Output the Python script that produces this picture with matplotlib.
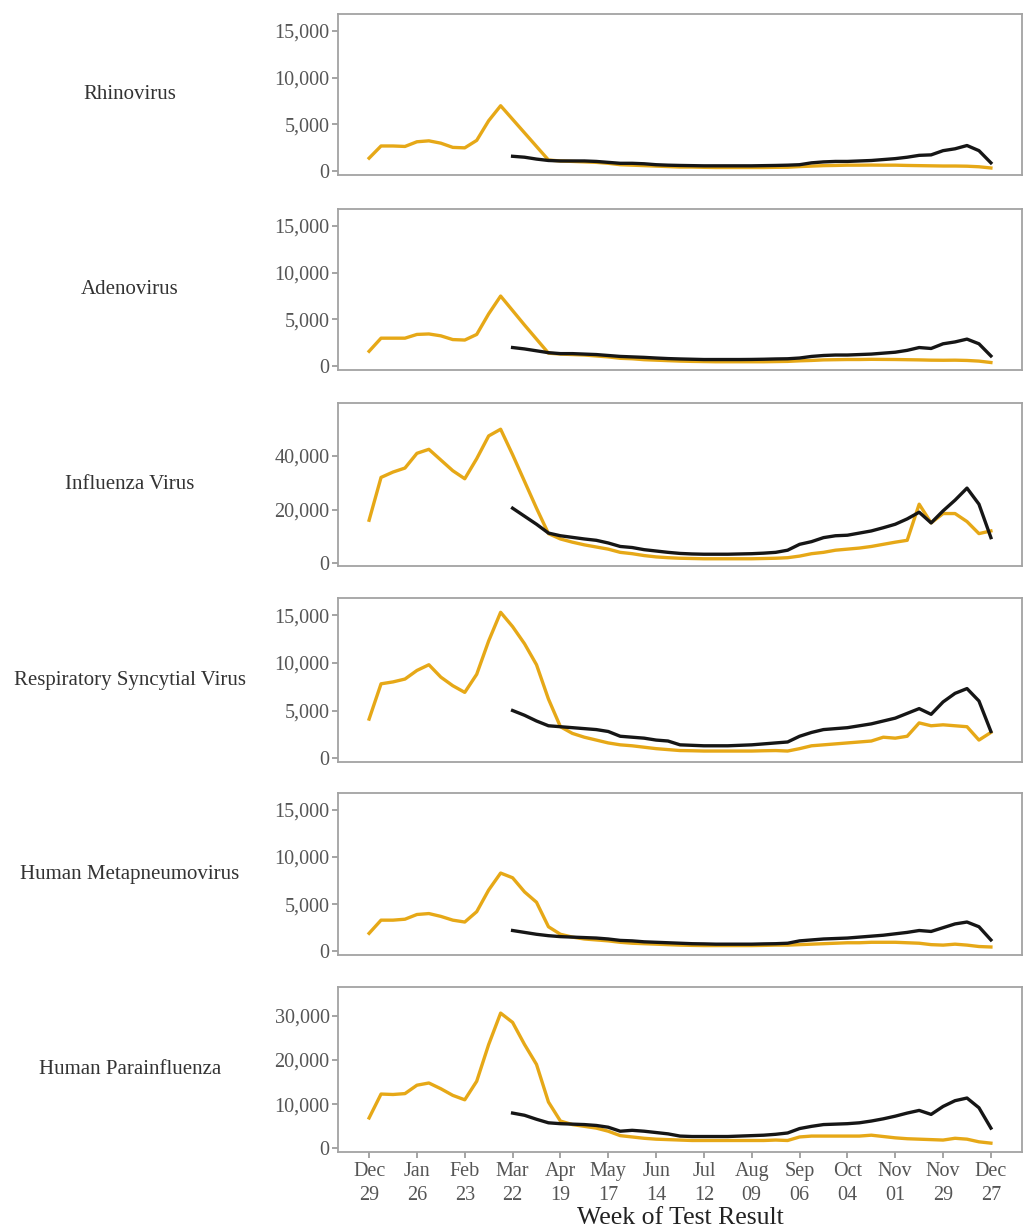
import numpy as np
import pandas as pd
import matplotlib
matplotlib.use("Agg")
import matplotlib.pyplot as plt
import matplotlib.dates as mdates
from matplotlib.ticker import FuncFormatter

# weekly test result dates, Dec 29 2019 .. Dec 27 2020
weeks = pd.date_range("2019-12-29", "2020-12-27", freq="7D")
pred_start = 12  # black series starts Mar 22

viruses = ["Rhinovirus", "Adenovirus", "Influenza Virus",
           "Respiratory Syncytial Virus", "Human Metapneumovirus",
           "Human Parainfluenza"]

rhino_obs = [1400, 2700, 2700, 2650, 3150, 3250, 3000, 2550, 2500, 3300, 5400, 7000, 5550,
             4100, 2650, 1200, 1100, 1050, 1000, 950, 850, 700, 650, 600, 550, 500, 450,
             450, 420, 400, 400, 400, 400, 400, 420, 430, 500, 550, 600, 620, 650, 650,
             660, 650, 650, 620, 600, 580, 560, 560, 540, 480, 350]
rhino_pred = [1600, 1500, 1300, 1150, 1100, 1100, 1100, 1050, 950, 850, 850, 800, 700, 650,
              620, 600, 580, 580, 580, 580, 580, 600, 620, 650, 700, 900, 1000, 1050, 1050,
              1100, 1150, 1250, 1350, 1500, 1700, 1750, 2200, 2400, 2750, 2200, 900]

adeno_obs = [1600, 3000, 3000, 3000, 3400, 3450, 3250, 2850, 2800, 3400, 5600, 7500, 5950,
             4400, 2900, 1400, 1300, 1250, 1200, 1100, 1000, 850, 800, 700, 650, 600, 550,
             520, 500, 480, 480, 480, 480, 480, 500, 520, 580, 620, 680, 700, 720, 720, 740,
             730, 720, 700, 680, 650, 640, 650, 620, 550, 400]
adeno_pred = [2000, 1850, 1650, 1450, 1350, 1350, 1300, 1250, 1150, 1050, 1000, 950, 880,
              820, 780, 750, 720, 720, 720, 720, 730, 750, 780, 800, 880, 1050, 1150, 1200,
              1200, 1250, 1300, 1400, 1500, 1700, 2000, 1900, 2400, 2600, 2900, 2400, 1100]

flu_obs = [16000, 32000, 34000, 35500, 41000, 42500, 38500, 34500, 31500, 39000, 47500, 50000,
           40500, 30500, 20500, 11000, 9000, 7800, 6800, 6000, 5200, 4000, 3500, 2800, 2300,
           2000, 1800, 1700, 1600, 1600, 1600, 1600, 1600, 1700, 1800, 2000, 2600, 3500, 4000,
           4800, 5200, 5600, 6200, 7000, 7800, 8500, 22000, 15000, 18500, 18500, 15500, 11000,
           12000]
flu_pred = [20500, 17500, 14500, 11200, 10200, 9600, 9000, 8500, 7500, 6200, 5800, 5000, 4500,
            4000, 3600, 3400, 3300, 3300, 3300, 3400, 3500, 3700, 4000, 4800, 7000, 8000, 9500,
            10200, 10400, 11200, 12000, 13200, 14500, 16500, 19000, 15000, 19500, 23500, 28000,
            22000, 9500]

rsv_obs = [4100, 7800, 8000, 8300, 9200, 9800, 8500, 7600, 6900, 8800, 12300, 15300, 13800,
           12000, 9800, 6200, 3300, 2600, 2200, 1900, 1600, 1400, 1300, 1150, 1000, 900, 800,
           780, 750, 750, 750, 750, 750, 780, 800, 750, 1000, 1300, 1400, 1500, 1600, 1700,
           1800, 2200, 2100, 2300, 3700, 3400, 3500, 3400, 3300, 1900, 2700]
rsv_pred = [5000, 4500, 3900, 3400, 3300, 3200, 3100, 3000, 2800, 2300, 2200, 2100, 1900, 1800,
            1400, 1350, 1300, 1300, 1300, 1350, 1400, 1500, 1600, 1700, 2300, 2700, 3000, 3100,
            3200, 3400, 3600, 3900, 4200, 4700, 5200, 4600, 5900, 6800, 7300, 6000, 2800]

hmpv_obs = [1900, 3300, 3300, 3400, 3900, 4000, 3700, 3300, 3100, 4200, 6500, 8300, 7800, 6300,
            5200, 2600, 1800, 1500, 1300, 1200, 1100, 950, 850, 800, 750, 700, 650, 620, 600,
            600, 600, 600, 600, 620, 650, 650, 700, 750, 800, 850, 900, 900, 950, 950, 950,
            900, 850, 700, 650, 750, 650, 500, 450]
hmpv_pred = [2200, 2000, 1800, 1650, 1550, 1500, 1450, 1400, 1300, 1150, 1100, 1000, 950, 900,
             850, 800, 780, 750, 750, 750, 750, 780, 800, 850, 1100, 1200, 1300, 1350, 1400,
             1500, 1600, 1700, 1850, 2000, 2200, 2100, 2500, 2900, 3100, 2600, 1200]

hpiv_obs = [6900, 12300, 12200, 12400, 14300, 14800, 13500, 12000, 11000, 15200, 23500, 30600,
            28500, 23500, 19000, 10500, 6200, 5400, 5000, 4600, 3900, 2900, 2600, 2300, 2100,
            2000, 1900, 1800, 1800, 1800, 1800, 1800, 1800, 1800, 1900, 1800, 2600, 2800, 2800,
            2800, 2800, 2800, 3000, 2700, 2400, 2200, 2100, 2000, 1900, 2300, 2100, 1500, 1200]
hpiv_pred = [8000, 7500, 6600, 5800, 5600, 5500, 5400, 5200, 4800, 3900, 4100, 3900, 3600,
             3300, 2800, 2700, 2700, 2700, 2700, 2800, 2900, 3000, 3200, 3500, 4500, 5000, 5400,
             5500, 5600, 5800, 6200, 6700, 7300, 8000, 8600, 7700, 9500, 10800, 11400, 9200, 4600]

observed = [rhino_obs, adeno_obs, flu_obs, rsv_obs, hmpv_obs, hpiv_obs]
predicted = [rhino_pred, adeno_pred, flu_pred, rsv_pred, hmpv_pred, hpiv_pred]

y_ticks = [[0, 5000, 10000, 15000]] * 2 + [[0, 20000, 40000]] + [[0, 5000, 10000, 15000]] * 2 \
          + [[0, 10000, 20000, 30000]]
y_limits = [(-400, 16800)] * 2 + [(-1100, 59800)] + [(-400, 16800)] * 2 + [(-800, 36500)]

tick_dates = weeks[::4]

plt.rcParams["font.family"] = ["Liberation Serif", "DejaVu Serif"]

W, H = 1024, 1232
fig = plt.figure(figsize=(W / 100, H / 100), dpi=100)

tops = [14, 209, 403, 598, 793, 987]
bottoms = [175, 370, 566, 762, 955, 1152]
left, right = 338, 1022

gold = "#E6A817"
dark = "#161616"
frame = "#a3a3a3"

pad = pd.Timedelta(days=7 * 2.6)
for k, name in enumerate(viruses):
    t, b = tops[k], bottoms[k]
    ax = fig.add_axes([left / W, 1 - b / H, (right - left) / W, (b - t) / H])
    ax.plot(weeks, observed[k], color=gold, lw=2.4, solid_joinstyle="round", zorder=2)
    ax.plot(weeks[pred_start:], predicted[k], color=dark, lw=2.4,
            solid_joinstyle="round", zorder=3)

    ax.set_xlim(weeks[0] - pad, weeks[-1] + pad)
    ax.set_ylim(*y_limits[k])
    ax.set_yticks(y_ticks[k])
    ax.yaxis.set_major_formatter(FuncFormatter(lambda v, p: f"{int(v):,}"))

    for s in ax.spines.values():
        s.set_color(frame)
        s.set_linewidth(1.3)
    ax.tick_params(axis="y", direction="out", length=4, width=1.1, color="#8c8c8c",
                   labelcolor="#555555", labelsize=14.5, pad=2)

    if k == len(viruses) - 1:
        ax.set_xticks(tick_dates)
        ax.xaxis.set_major_formatter(mdates.DateFormatter("%b\n%d"))
        ax.tick_params(axis="x", direction="out", length=4, width=1.1, color="#8c8c8c",
                       labelcolor="#555555", labelsize=14.5, pad=3)
        for lab in ax.get_xticklabels():
            lab.set_linespacing(1.35)
        ax.set_xlabel("Week of Test Result", fontsize=18.5, color="#222222", labelpad=2)
    else:
        ax.set_xticks([])

    fig.text(130 / W, 1 - (t + b) / 2 / H, name, ha="center", va="center",
             fontsize=15, color="#333333")

fig.savefig("out.png", dpi=100)
